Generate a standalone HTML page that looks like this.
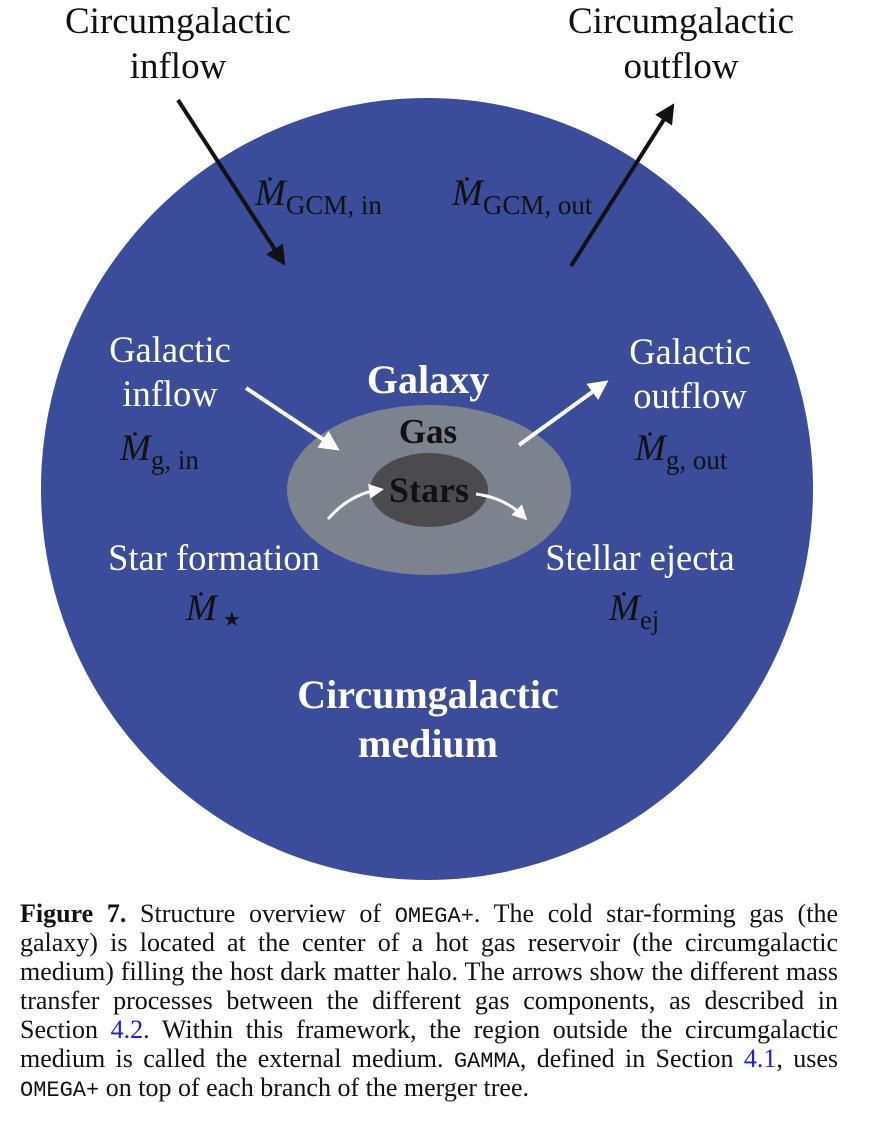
<!DOCTYPE html>
<html><head><meta charset="utf-8">
<style>
body{margin:0;background:#fff;width:876px;height:1132px;overflow:hidden;font-family:"Liberation Serif",serif;}
svg text{font-family:"Liberation Serif",serif;}
#cap{position:absolute;left:20px;top:899px;width:818px;font-size:26px;color:#111;}
#cap div{height:29px;line-height:29px;overflow:visible;text-align:justify;text-align-last:justify;white-space:nowrap;}
#cap div.last{text-align-last:left;}
.mono{font-family:"Liberation Mono",monospace;font-size:22px;line-height:10px;}
.lnk{color:#1a1aff;}
</style></head><body>
<svg width="876" height="900" style="position:absolute;left:0;top:0">
<defs>
<marker id="ak" markerWidth="6" markerHeight="6" refX="3" refY="3" orient="auto" markerUnits="strokeWidth"><path d="M0,0.5 L5,3 L0,5.5 Z" fill="#111"/></marker>
<marker id="aw" markerWidth="6" markerHeight="6" refX="3" refY="3" orient="auto" markerUnits="strokeWidth"><path d="M0,0.5 L5,3 L0,5.5 Z" fill="#fff"/></marker>
</defs>
<ellipse cx="427" cy="489" rx="386" ry="391" fill="#3b4c9b"/>
<ellipse cx="429" cy="490" rx="142" ry="85" fill="#7c838e"/>
<ellipse cx="429" cy="490" rx="59" ry="37" fill="#4b4b4e"/>
<g font-size="37" fill="#111" text-anchor="middle">
<text x="178" y="33">Circumgalactic</text><text x="178" y="78">inflow</text></g>
<g font-size="37" fill="#111" text-anchor="middle">
<text x="681" y="33">Circumgalactic</text><text x="681" y="78">outflow</text></g>
<line x1="178" y1="100" x2="281" y2="259" stroke="#111" stroke-width="4" marker-end="url(#ak)"/>
<line x1="571" y1="266" x2="670" y2="110" stroke="#111" stroke-width="4" marker-end="url(#ak)"/>
<g font-size="37" fill="#111">
<text x="255" y="205"><tspan font-style="italic">M</tspan><tspan font-size="27" dy="9">GCM, in</tspan></text>
<circle cx="270" cy="179" r="1.8" fill="#111"/>
<text x="452" y="205"><tspan font-style="italic">M</tspan><tspan font-size="27" dy="9">GCM, out</tspan></text>
<circle cx="467" cy="179" r="1.8" fill="#111"/>
</g>
<g fill="#fff" font-size="36.5" text-anchor="middle">
<text x="170" y="362">Galactic</text><text x="170" y="406">inflow</text>
<text x="690" y="364">Galactic</text><text x="690" y="408">outflow</text>
<text x="214" y="570">Star formation</text>
<text x="640" y="570">Stellar ejecta</text>
</g>
<g fill="#111" font-size="37">
<text x="120" y="460"><tspan font-style="italic">M</tspan><tspan font-size="27" dy="9">g, in</tspan></text><circle cx="135" cy="434" r="1.8" fill="#111"/>
<text x="635" y="460"><tspan font-style="italic">M</tspan><tspan font-size="27" dy="9">g, out</tspan></text><circle cx="650" cy="434" r="1.8" fill="#111"/>
<text x="186" y="620"><tspan font-style="italic">M</tspan><tspan font-size="20" dx="6" dy="6">★</tspan></text><circle cx="201" cy="594" r="1.8" fill="#111"/>
<text x="609" y="620"><tspan font-style="italic">M</tspan><tspan font-size="27" dy="9">ej</tspan></text><circle cx="624" cy="594" r="1.8" fill="#111"/>
</g>
<line x1="246" y1="388" x2="333" y2="446" stroke="#fff" stroke-width="4" marker-end="url(#aw)"/>
<line x1="519" y1="445" x2="602" y2="385" stroke="#fff" stroke-width="4" marker-end="url(#aw)"/>
<path d="M328,519 Q350,494 378,490" stroke="#fff" stroke-width="3" fill="none" marker-end="url(#aw)"/>
<path d="M476,494 Q505,498 523,516" stroke="#fff" stroke-width="3" fill="none" marker-end="url(#aw)"/>
<text x="428" y="393" font-size="40" font-weight="bold" fill="#fff" text-anchor="middle">Galaxy</text>
<text x="428" y="443" font-size="35" font-weight="bold" fill="#111" text-anchor="middle">Gas</text>
<text x="429" y="502" font-size="36" font-weight="bold" fill="#111" text-anchor="middle">Stars</text>
<text x="428" y="708" font-size="40" font-weight="bold" fill="#fff" text-anchor="middle">Circumgalactic</text>
<text x="428" y="757" font-size="40" font-weight="bold" fill="#fff" text-anchor="middle">medium</text>
</svg>
<div id="cap">
<div><b>Figure 7.</b> Structure overview of <span class="mono">OMEGA+</span>. The cold star-forming gas (the</div>
<div>galaxy) is located at the center of a hot gas reservoir (the circumgalactic</div>
<div>medium) filling the host dark matter halo. The arrows show the different mass</div>
<div>transfer processes between the different gas components, as described in</div>
<div>Section <span class="lnk">4.2</span>. Within this framework, the region outside the circumgalactic</div>
<div>medium is called the external medium. <span class="mono">GAMMA</span>, defined in Section <span class="lnk">4.1</span>, uses</div>
<div class="last"><span class="mono">OMEGA+</span> on top of each branch of the merger tree.</div>
</div>
</body></html>
